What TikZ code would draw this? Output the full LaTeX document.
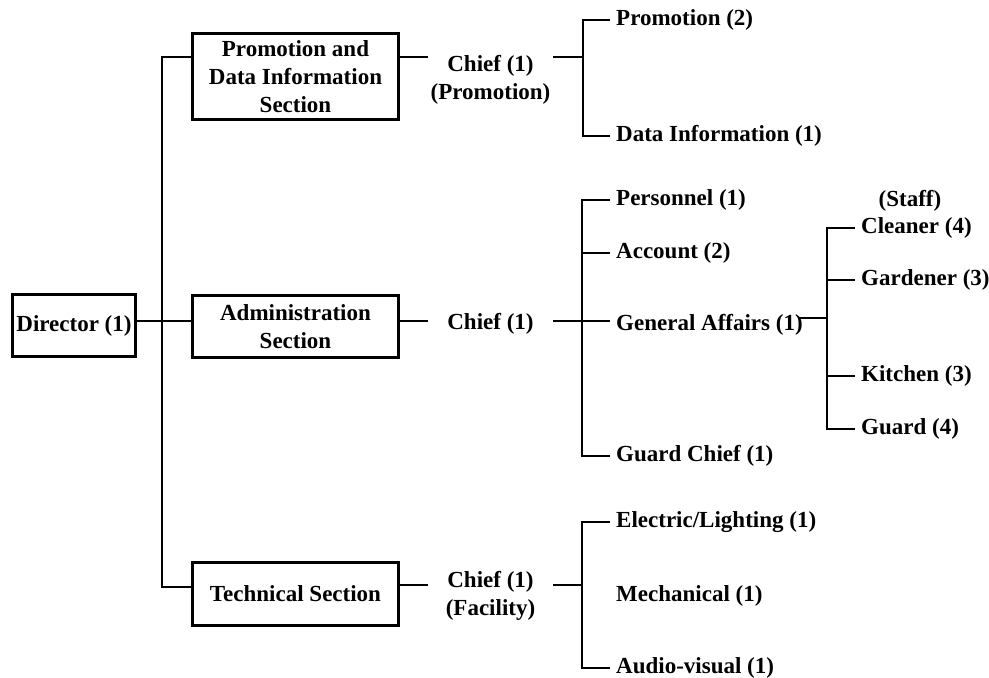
\documentclass[tikz,border=0pt]{standalone}
\usepackage{fontspec}
\setmainfont{Liberation Serif}
\usepackage{xcolor}
\definecolor{cMain}{HTML}{000000}
\usetikzlibrary{positioning,calc}
\newcommand{\orgfont}{\bfseries\fontsize{23}{28}\selectfont}
\tikzset{
  node-box/.style={draw=cMain,line width=3pt,minimum width=206pt,
    align=center,font=\orgfont,inner sep=0pt},
  node-chief/.style={align=center,font=\orgfont,minimum width=125pt,
    inner xsep=0pt,inner ysep=0pt},
  node-leaf/.style={anchor=west,font=\orgfont,inner xsep=6pt,inner ysep=0pt},
  node-label/.style={font=\orgfont,inner sep=0pt},
  link/.style={draw=cMain,line width=1.4pt},
}

\begin{document}
\begin{tikzpicture}[x=1pt,y=-1pt]
  \useasboundingbox (0,0) rectangle (989,678);
  % Director and sections
  \node[node-box,minimum width=123pt,minimum height=62pt] (dir)  at (74,325.5)  {Director (1)};
  \node[node-box,minimum height=86pt]                     (prom) at (295.5,76.5) {Promotion and\\Data Information\\Section};
  \node[node-box,minimum height=62pt]                     (adm)  at (295.5,326.5) {Administration\\Section};
  \node[node-box,minimum height=63pt]                     (tech) at (295.5,594) {Technical Section};
  % chiefs
  \node[node-chief] (pc) at (490.5,79.5) {Chief (1)\\(Promotion)};
  \node[node-chief] (ac) at (490.5,324)  {Chief (1)};
  \node[node-chief] (tc) at (490.5,596)  {Chief (1)\\(Facility)};
  % junctions
  \coordinate (tt) at (162,57);
  \coordinate (tb) at (162,587);
  \coordinate (pj) at (583,57);
  \coordinate (aj) at (582,321);
  \coordinate (gj) at (827,318);
  \coordinate (tj) at (582,585);
  % leaves
  \node[node-leaf] (lpro) at (610,20)  {Promotion (2)};
  \node[node-leaf] (ldat) at (610,136) {Data Information (1)};
  \node[node-leaf] (lper) at (610,200) {Personnel (1)};
  \node[node-leaf] (lacc) at (610,253) {Account (2)};
  \node[node-leaf] (lgen) at (610,325) {General Affairs (1)};
  \node[node-leaf] (lgch) at (610,456) {Guard Chief (1)};
  \node[node-leaf] (lele) at (610,522) {Electric/Lighting (1)};
  \node[node-leaf] (lmec) at (610,596) {Mechanical (1)};
  \node[node-leaf] (laud) at (610,668) {Audio-visual (1)};
  \node[node-label] (staff) at (910,201) {(Staff)};
  \node[node-leaf] (scl) at (855,228) {Cleaner (4)};
  \node[node-leaf] (sga) at (855,280) {Gardener (3)};
  \node[node-leaf] (ski) at (855,376) {Kitchen (3)};
  \node[node-leaf] (sgu) at (855,429) {Guard (4)};
  % director trunk
  \draw[link] (dir.east |- aj) -- (adm.west |- aj);
  \draw[link] (tt -| prom.west) -- (tt) -- (tb) -- (tb -| tech.west);
  % section to chief
  \draw[link] (tt -| prom.east) -- (tt -| pc.west);
  \draw[link] (tt -| pc.east) -- (pj);
  \draw[link] (aj -| adm.east) -- (aj -| ac.west);
  \draw[link] (aj -| ac.east) -- (aj);
  \draw[link] (tj -| tech.east) -- (tj -| tc.west);
  \draw[link] (tj -| tc.east) -- (tj);
  % promotion staff
  \draw[link] (lpro.west) -- (pj |- lpro) -- (pj |- ldat) -- (ldat.west);
  % administration staff
  \draw[link] (lper.west) -- (aj |- lper) -- (aj |- lgch) -- (lgch.west);
  \draw[link] (aj |- lacc) -- (lacc.west);
  \draw[link] (aj) -- (lgen.west |- aj);
  \draw[link] ([xshift=-10pt]gj -| lgen.east) -- (gj);
  \draw[link] (scl.west) -- (gj |- scl) -- (gj |- sgu) -- (sgu.west);
  \draw[link] (gj |- sga) -- (sga.west);
  \draw[link] (gj |- ski) -- (ski.west);
  % technical staff
  \draw[link] (lele.west) -- (tj |- lele) -- (tj |- laud) -- (laud.west);
\end{tikzpicture}
\end{document}
